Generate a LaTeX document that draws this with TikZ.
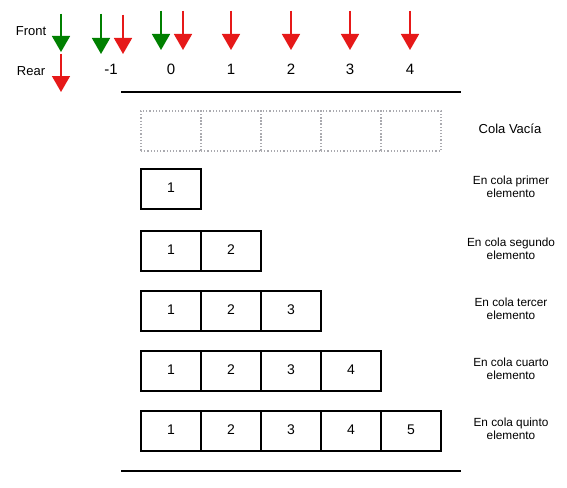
\documentclass[tikz,border=0pt]{standalone}
\usepackage{fontspec}
\setmainfont{Liberation Sans}
\usetikzlibrary{arrows.meta}
\definecolor{gr}{RGB}{0,128,0}
\definecolor{rd}{RGB}{230,25,25}
\definecolor{dotgray}{RGB}{170,170,175}
\begin{document}
\begin{tikzpicture}[x=1pt,y=-1pt,
  ptr/.style={line width=1.6pt,-{Triangle[width=18pt,length=16pt]}},
  gptr/.style={ptr,draw=gr,fill=gr},
  rptr/.style={ptr,draw=rd,fill=rd},
  cell/.style={draw=black,line width=1.5pt,minimum width=60pt,minimum height=40pt,inner sep=0pt,font=\fontsize{14}{16}\selectfont,text depth=0pt},
  ecell/.style={draw=dotgray,line width=1.2pt,dotted,minimum width=60pt,minimum height=40pt,inner sep=0pt},
  lbl/.style={font=\fontsize{11.8}{13.5}\selectfont,align=center},
  side/.style={font=\fontsize{13}{15}\selectfont},
  idx/.style={font=\fontsize{15}{17}\selectfont},
  rule/.style={line width=1.5pt}]
\useasboundingbox (0,0) rectangle (567,487);
% labels
\node[side] (front) at (31,31) {Front};
\node[side] (rear) at (31,71) {Rear};
% pointer coordinates
\coordinate (fs) at (61,14); \coordinate (fe) at (61,52);
\coordinate (rs) at (61,54); \coordinate (re) at (61,92);
\draw[gptr] (fs) -- (fe);
\draw[rptr] (rs) -- (re);
\coordinate (gm1s) at (101,14); \coordinate (gm1e) at (101,54);
\coordinate (rm1s) at (123,15); \coordinate (rm1e) at (123,54);
\draw[gptr] (gm1s) -- (gm1e);
\draw[rptr] (rm1s) -- (rm1e);
\coordinate (g0s) at (161,11); \coordinate (g0e) at (161,50);
\coordinate (r0s) at (183,11); \coordinate (r0e) at (183,50);
\draw[gptr] (g0s) -- (g0e);
\draw[rptr] (r0s) -- (r0e);
\foreach \x/\n in {231/1,291/2,350/3,410/4}{
  \coordinate (r\n s) at (\x,11); \coordinate (r\n e) at (\x,50);
  \draw[rptr] (r\n s) -- (r\n e);
}
% indices
\node[idx] (im1) at (111,69) {-1};
\node[idx] (i0) at (171,69) {0};
\node[idx] (i1) at (231,69) {1};
\node[idx] (i2) at (291,69) {2};
\node[idx] (i3) at (350,69) {3};
\node[idx] (i4) at (410,69) {4};
% rules
\coordinate (t1) at (121,92); \coordinate (t2) at (461,92);
\coordinate (b1) at (121,471); \coordinate (b2) at (461,471);
\draw[rule] (t1) -- (t2);
\draw[rule] (b1) -- (b2);
% empty row
\foreach \i in {0,...,4}{
  \node[ecell] (e\i) at (171+60*\i,131) {};
}
\node[side] (cv) at (510,129) {Cola Vacía};
% filled rows
\foreach \r/\y in {1/189,2/251,3/311,4/371,5/431}{
  \foreach \c in {1,...,\r}{
    \node[cell] (c\r\c) at (111+60*\c,\y) {\raisebox{3pt}{\c}};
  }
}
\node[lbl] (l1) at (511,187) {En cola primer\\elemento};
\node[lbl] (l2) at (511,249) {En cola segundo\\elemento};
\node[lbl] (l3) at (511,309) {En cola tercer\\elemento};
\node[lbl] (l4) at (511,369) {En cola cuarto\\elemento};
\node[lbl] (l5) at (511,429) {En cola quinto\\elemento};
\end{tikzpicture}
\end{document}
